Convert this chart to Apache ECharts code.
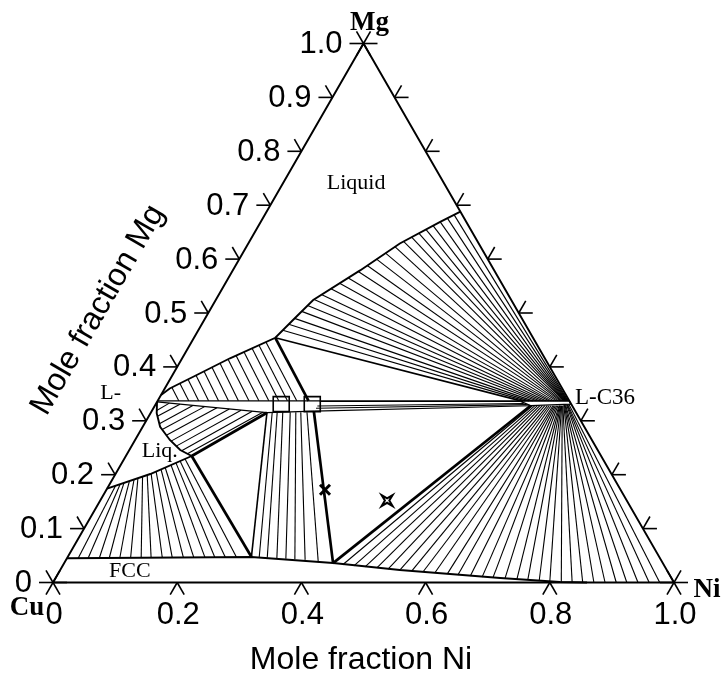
<!DOCTYPE html>
<html><head><meta charset="utf-8">
<script src="https://cdn.jsdelivr.net/npm/echarts@6/dist/echarts.min.js"></script>
<style>html,body{margin:0;padding:0;background:#fff}#c{width:723px;height:679px}</style>
</head><body><div id="c"></div>
<script>
// All compositions are [xNi, xMg]
const leftTickValues = [0.1,0.2,0.3,0.4,0.5,0.6,0.7,0.8,0.9];
const rightTickValues = [0.1,0.2,0.3,0.4,0.5,0.6,0.7,0.8,0.9];
const bottomTickValues = [0.2,0.4,0.6,0.8];
const leftTickLabels = ['0','0.1','0.2','0.3','0.4','0.5','0.6','0.7','0.8','0.9','1.0'];
const bottomTickLabels = ['0','0.2','0.4','0.6','0.8','1.0'];
const vertexNames = ['Cu','Ni','Mg'];
const vertexComps = [[0,0],[1,0],[0,1]];

// phase boundaries
const liquidusUpper = [[0,0.348],[0.008,0.360],[0.039,0.385],[0.077,0.416],[0.131,0.454],[0.143,0.487],[0.157,0.524],[0.205,0.579],[0.244,0.629],[0.289,0.669],[0.312,0.688]];
const liquidusLow = [[0,0.174],[0.056,0.2013],[0.106,0.2347]];
const liqC15Curve = [[0,0.335],[0.010,0.314],[0.028,0.289],[0.056,0.2644],[0.082,0.2458],[0.106,0.2347]];
const c15Top = [[0,0.337],[0.663,0.337]];
const c15Lower = [[0,0.335],[0.187,0.315],[0.262,0.318]];
const fccSolvus = [[0,0.045],[0.296,0.0473],[0.433,0.0362],[0.547,0.0232],[0.716,0.0083],[0.816,0.001],[0.86,0]];
const c36Lens = [[0.585,0.337],[0.663,0.337],[0.668,0.331],[0.605,0.328],[0.585,0.336]];

// three-phase triangle edges (heavy)
const heavyEdges = [
  [[0.131,0.454],[0.243,0.337]],
  [[0.106,0.2347],[0.187,0.315]],
  [[0.106,0.2347],[0.296,0.0473]],
  [[0.261,0.318],[0.433,0.036]],
  [[0.433,0.036],[0.605,0.328]]
];
const lightEdges = [
  [[0.187,0.315],[0.296,0.047]],
  [[0.131,0.454],[0.585,0.337]]
];

// tie-lines: Liquid + C36 (upper fan)
const upperFanLiquid = [[0.136,0.468],[0.140,0.479],[0.144,0.490],[0.149,0.503],[0.153,0.514],[0.158,0.525],[0.166,0.534],[0.175,0.545],[0.184,0.555],[0.193,0.565],[0.203,0.577],[0.212,0.588],[0.221,0.600],[0.230,0.611],[0.239,0.623],[0.248,0.633],[0.257,0.641],[0.265,0.648],[0.273,0.655],[0.281,0.662],[0.289,0.669],[0.297,0.676],[0.305,0.682]];
const upperFanC36 = [[0.592,0.337],[0.598,0.337],[0.604,0.337],[0.610,0.337],[0.615,0.337],[0.620,0.337],[0.625,0.337],[0.630,0.337],[0.634,0.337],[0.638,0.337],[0.642,0.337],[0.645,0.337],[0.648,0.337],[0.650,0.337],[0.652,0.337],[0.654,0.337],[0.655,0.337],[0.656,0.337],[0.657,0.337],[0.658,0.337],[0.659,0.337],[0.660,0.337],[0.661,0.337]];

// tie-lines: C36 + FCC (lower fan)
const lowerFanFCC = [[0.450,0.033],[0.469,0.031],[0.488,0.029],[0.508,0.027],[0.527,0.025],[0.547,0.023],[0.567,0.021],[0.586,0.020],[0.606,0.018],[0.627,0.016],[0.645,0.014],[0.666,0.012],[0.686,0.010],[0.704,0.009],[0.724,0.008],[0.744,0.006],[0.762,0.005],[0.781,0.004],[0.799,0.002],[0.818,0.001],[0.836,0],[0.853,0],[0.871,0],[0.889,0],[0.907,0],[0.924,0],[0.942,0],[0.960,0],[0.977,0]];
const lowerFanC36 = [[0.608,0.328],[0.612,0.328],[0.616,0.328],[0.620,0.328],[0.624,0.328],[0.628,0.328],[0.632,0.328],[0.635,0.328],[0.638,0.328],[0.641,0.328],[0.643,0.328],[0.645,0.328],[0.647,0.328],[0.649,0.328],[0.651,0.328],[0.652,0.328],[0.653,0.328],[0.654,0.328],[0.655,0.328],[0.656,0.328],[0.657,0.328],[0.658,0.329],[0.659,0.329],[0.660,0.329],[0.661,0.329],[0.662,0.330],[0.663,0.330],[0.664,0.330],[0.665,0.331]];

// tie-lines: C15 + FCC (middle)
const midC15 = [[0.195,0.316],[0.203,0.316],[0.212,0.316],[0.224,0.316],[0.233,0.316],[0.241,0.316],[0.251,0.316]];
const midFCC = [[0.309,0.046],[0.322,0.046],[0.338,0.045],[0.353,0.044],[0.368,0.043],[0.385,0.042],[0.407,0.040]];

// tie-lines: Liquid + FCC (lower left)
const lfccLiquid = [[0.011,0.1794],[0.017,0.1823],[0.022,0.1847],[0.029,0.1881],[0.035,0.1911],[0.040,0.1935],[0.046,0.1964],[0.052,0.1994],[0.057,0.2020],[0.063,0.2060],[0.069,0.2100],[0.074,0.2133],[0.081,0.2180],[0.087,0.2220],[0.092,0.2253],[0.098,0.2293]];
const lfccFCC = [[0.018,0.045],[0.034,0.045],[0.052,0.045],[0.068,0.045],[0.085,0.045],[0.102,0.046],[0.119,0.046],[0.135,0.046],[0.153,0.046],[0.169,0.046],[0.187,0.046],[0.203,0.047],[0.221,0.047],[0.237,0.047],[0.254,0.047],[0.272,0.047]];

// tie-lines: Liquid + C15 (below band)
const lc15LowLiquid = [[0.0075,0.319],[0.014,0.3084],[0.024,0.2946],[0.034,0.2837],[0.046,0.2732],[0.059,0.2623],[0.072,0.253],[0.085,0.2444],[0.097,0.2389]];
const lc15LowC15 = [[0.021,0.3328],[0.039,0.3308],[0.061,0.3285],[0.081,0.3263],[0.102,0.3241],[0.123,0.3218],[0.143,0.3197],[0.162,0.3177],[0.180,0.3157]];

// tie-lines: Liquid + C15 (above band)
const lc15UpLiquid = [[0.0105,0.362],[0.0197,0.3694],[0.0289,0.3769],[0.0381,0.3843],[0.0473,0.3918],[0.0564,0.3992],[0.0656,0.4067],[0.0748,0.4142],[0.0842,0.4211],[0.0937,0.4278],[0.1033,0.4345],[0.1115,0.4403],[0.1198,0.4461]];
const lc15UpC15 = [[0.034,0.337],[0.050,0.337],[0.066,0.337],[0.082,0.337],[0.098,0.337],[0.114,0.337],[0.130,0.337],[0.147,0.337],[0.163,0.337],[0.179,0.337],[0.195,0.337],[0.209,0.337],[0.224,0.337]];

// tie-lines: C15 + C36 (band)
const bandC15 = [[0.262,0.3355],[0.262,0.3275],[0.262,0.3232],[0.262,0.318]];
const bandC36 = [[0.585,0.336],[0.592,0.332],[0.598,0.330],[0.605,0.328]];

// markers
const squarePoints = [[0.202,0.331],[0.252,0.331]];
const starPoints = [[0.352,0.172]];
const crossPoints = [[0.462,0.152]];

// region labels
const regionLabels = ['Liquid','L-','Liq.','FCC'];
const regionPos = [[0.118,0.740],[-0.083,0.3516],[0.050,0.244],[0.113,0.0217]];
const c36Label = 'L-C36';
const c36LabelPos = [0.669,0.3432];

// ---- build ----
const T = p => [p[0] + p[1] / 2, p[1]];
const segs = (A, B) => A.map((a, i) => ({coords: [T(a), T(B[i])]}));
function linesSeries(data, width, poly, z) {
  return {type: 'lines', coordinateSystem: 'cartesian2d', polyline: !!poly, data: data,
    lineStyle: {color: '#000', width: width, opacity: 1, curveness: 0}, silent: true, clip: false, z: z || 2, animation: false};
}
const thinTies = [].concat(
  segs(upperFanLiquid, upperFanC36), segs(lowerFanFCC, lowerFanC36), segs(midC15, midFCC),
  segs(lfccLiquid, lfccFCC), segs(lc15LowLiquid, lc15LowC15), segs(lc15UpLiquid, lc15UpC15), segs(bandC15, bandC36)
);
const boundaries = [liquidusUpper, liquidusLow, liqC15Curve, fccSolvus].map(p => ({coords: p.map(T)}));
const thinBounds = [c15Top, c15Lower, c36Lens].map(p => ({coords: p.map(T)}));
const triangle = [{coords: [[0,0],[1,0],[0,1],[0,0]].map(T)}];

const tickData = [];
leftTickValues.forEach(m => tickData.push(T([0, m]).concat([0])));
rightTickValues.forEach(m => tickData.push(T([1 - m, m]).concat([1])));
bottomTickValues.forEach(n => tickData.push(T([n, 0]).concat([2])));
vertexComps.forEach(c => tickData.push(T(c).concat([3])));

function tickRender(params, api) {
  const p = api.coord([api.value(0), api.value(1)]);
  const side = api.value(2);
  const L = 14, c = L * 0.5, s = L * 0.866;
  let d;
  if (side === 0) d = [[-L, 0], [-c, -s]];
  else if (side === 1) d = [[L, 0], [c, -s]];
  else if (side === 2) d = [[-c, s], [c, s]];
  else d = [[-L, 0], [L, 0], [-c, -s], [c, s], [c, -s], [-c, s]];
  return {type: 'group', children: d.map(v => ({type: 'line',
    shape: {x1: p[0], y1: p[1], x2: p[0] + v[0], y2: p[1] + v[1]}, style: {stroke: '#000', lineWidth: 1.6}}))};
}

function textSeries(points, texts, font, dx, dy, align, valign) {
  return {type: 'custom', coordinateSystem: 'cartesian2d', clip: false, silent: true, z: 5, animation: false,
    data: points.map((p, i) => T(p).concat([i])),
    renderItem: function (params, api) {
      const p = api.coord([api.value(0), api.value(1)]);
      return {type: 'text', x: p[0] + dx, y: p[1] + dy,
        style: {text: texts[params.dataIndex], font: font, fill: '#000',
          align: align, verticalAlign: valign, textAlign: align, textVerticalAlign: valign}};
    }};
}

const sans = '"Liberation Sans", Arial, sans-serif';
const serif = '"Liberation Serif", "Times New Roman", serif';

const option = {
  animation: false,
  backgroundColor: '#fff',
  grid: {left: 53, top: 43.5, width: 621, height: 539, show: false},
  xAxis: {type: 'value', min: 0, max: 1, show: false},
  yAxis: {type: 'value', min: 0, max: 1, show: false},
  graphic: [
    {type: 'text', x: 361, y: 660, style: {text: 'Mole fraction Ni', font: '32px ' + sans, fill: '#000', align: 'center', verticalAlign: 'middle', textAlign: 'center', textVerticalAlign: 'middle'}},
    {type: 'text', x: 98, y: 310, rotation: Math.PI / 3, style: {text: 'Mole fraction Mg', font: '32px ' + sans, fill: '#000', align: 'center', verticalAlign: 'middle', textAlign: 'center', textVerticalAlign: 'middle'}}
  ],
  series: [
    linesSeries(thinTies, 1.1, false, 2),
    linesSeries(thinBounds, 1.3, true, 3),
    linesSeries(lightEdges.map(e => ({coords: e.map(T)})), 1.6, false, 3),
    linesSeries(boundaries, 1.9, true, 3),
    linesSeries(heavyEdges.map(e => ({coords: e.map(T)})), 2.7, false, 4),
    linesSeries(triangle, 1.9, true, 4),
    {type: 'custom', coordinateSystem: 'cartesian2d', clip: false, silent: true, z: 4, animation: false,
      data: tickData, renderItem: tickRender},
    {type: 'custom', coordinateSystem: 'cartesian2d', clip: false, silent: true, z: 5, animation: false,
      data: squarePoints.map(T),
      renderItem: function (params, api) {
        const p = api.coord([api.value(0), api.value(1)]);
        return {type: 'rect', shape: {x: p[0] - 8, y: p[1] - 7.5, width: 16, height: 15},
          style: {fill: 'rgba(0,0,0,0)', stroke: '#000', lineWidth: 1.6}};
      }},
    {type: 'custom', coordinateSystem: 'cartesian2d', clip: false, silent: true, z: 5, animation: false,
      data: starPoints.map(T),
      renderItem: function (params, api) {
        const p = api.coord([api.value(0), api.value(1)]);
        const r = 5;
        return {type: 'group', children: [
          {type: 'line', shape: {x1: p[0] - r, y1: p[1] - r, x2: p[0] + r, y2: p[1] + r}, style: {stroke: '#000', lineWidth: 3}},
          {type: 'line', shape: {x1: p[0] - r, y1: p[1] + r, x2: p[0] + r, y2: p[1] - r}, style: {stroke: '#000', lineWidth: 3}}
        ]};
      }},
    {type: 'custom', coordinateSystem: 'cartesian2d', clip: false, silent: true, z: 5, animation: false,
      data: crossPoints.map(T),
      renderItem: function (params, api) {
        const p = api.coord([api.value(0), api.value(1)]);
        const R = 5.5, q = 2.2;
        const pts = [[-R,-R],[0,-q],[R,-R],[q,0],[R,R],[0,q],[-R,R],[-q,0]].map(v => [p[0] + v[0], p[1] + v[1]]);
        return {type: 'polygon', shape: {points: pts}, style: {fill: '#fff', stroke: '#000', lineWidth: 2}};
      }},
    textSeries(leftTickLabels.map(t => [0, parseFloat(t)]), leftTickLabels, '31px ' + sans, -21, 1, 'right', 'middle'),
    textSeries(bottomTickLabels.map(t => [parseFloat(t), 0]), bottomTickLabels, '31px ' + sans, 1, 33, 'center', 'middle'),
    textSeries(regionPos, regionLabels, '22px ' + serif, 0, 0, 'center', 'middle'),
    textSeries([c36LabelPos], [c36Label], '23px ' + serif, 0, 0, 'left', 'middle'),
    textSeries([vertexComps[2]], [vertexNames[2]], 'bold 27px ' + serif, 6, -20, 'center', 'middle'),
    textSeries([vertexComps[0]], [vertexNames[0]], 'bold 27px ' + serif, -26, 26, 'center', 'middle'),
    textSeries([vertexComps[1]], [vertexNames[1]], 'bold 27px ' + serif, 33, 8, 'center', 'middle')
  ]
};
const chart = echarts.init(document.getElementById('c'), null, {renderer: 'canvas'});
chart.setOption(option);
</script>
</body></html>
